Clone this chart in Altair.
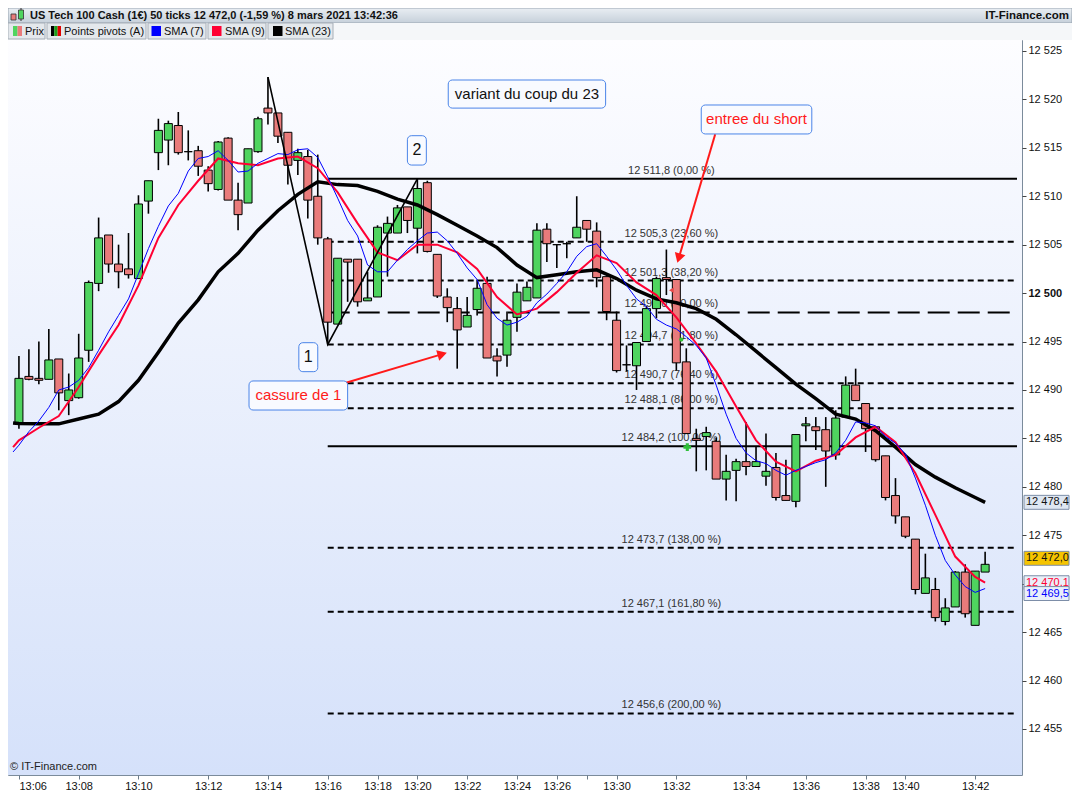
import altair as alt
import pandas as pd

# ---------------- data ----------------
opens = [12486.6, 12491.4, 12491.2, 12491.1, 12493.2, 12488.9, 12489.2, 12494.1, 12501.0, 12506.0,
         12503.0, 12502.5, 12501.5, 12509.5, 12514.5, 12515.8, 12517.3, 12514.6, 12514.7, 12512.7,
         12510.7, 12516.0, 12509.6, 12509.3, 12514.6, 12519.1, 12518.6, 12516.6, 12513.7, 12514.1,
         12510.0, 12505.6, 12496.8, 12503.5, 12503.5, 12499.2, 12499.6, 12506.2, 12506.2, 12508.9,
         12506.7, 12511.4, 12504.0, 12499.6, 12498.4, 12496.5, 12498.3, 12501.0, 12493.5, 12493.6,
         12497.5, 12499.2, 12499.5, 12506.6, 12505.0, 12505.1, 12505.7, 12507.5, 12506.4, 12501.7,
         12497.2, 12492.6, 12492.5, 12495.0, 12498.4, 12501.6, 12501.4, 12492.9, 12485.0, 12485.2,
         12484.7, 12480.8, 12481.7, 12482.6, 12482.1, 12481.1, 12482.0, 12479.1, 12478.5, 12486.3,
         12486.2, 12485.9, 12483.3, 12487.2, 12490.5, 12488.6, 12486.2, 12483.2, 12479.1, 12476.9,
         12474.6, 12469.0, 12469.4, 12466.1, 12467.6, 12471.2, 12465.7, 12471.2]
highs = [12493.5, 12494.2, 12495.0, 12496.3, 12493.2, 12491.7, 12495.8, 12501.3, 12507.8, 12506.0,
         12505.0, 12506.2, 12510.1, 12511.6, 12518.0, 12517.8, 12518.7, 12516.8, 12515.2, 12513.1,
         12515.7, 12516.1, 12511.4, 12514.9, 12518.2, 12522.3, 12518.6, 12516.6, 12514.9, 12514.8,
         12514.3, 12505.8, 12503.6, 12503.5, 12503.5, 12502.2, 12507.0, 12507.9, 12509.1, 12508.9,
         12511.8, 12511.6, 12504.0, 12500.5, 12499.6, 12499.6, 12501.4, 12501.7, 12494.3, 12498.1,
         12501.0, 12501.2, 12507.2, 12507.2, 12505.0, 12505.3, 12510.0, 12507.5, 12507.3, 12501.7,
         12498.1, 12494.6, 12494.9, 12498.7, 12501.7, 12504.5, 12501.4, 12494.3, 12486.0, 12486.2,
         12485.1, 12483.3, 12482.9, 12486.7, 12484.1, 12485.5, 12483.5, 12482.8, 12485.4, 12487.2,
         12487.2, 12487.2, 12487.9, 12491.4, 12492.2, 12488.6, 12486.2, 12483.2, 12480.9, 12476.9,
         12474.6, 12473.1, 12470.6, 12468.5, 12471.3, 12472.0, 12471.3, 12473.3]
lows = [12486.0, 12491.0, 12490.6, 12491.1, 12487.9, 12487.4, 12489.1, 12492.9, 12500.2, 12502.1,
        12500.5, 12501.5, 12501.5, 12508.2, 12512.7, 12513.2, 12514.3, 12513.7, 12512.1, 12510.5,
        12510.6, 12509.6, 12506.5, 12509.3, 12514.5, 12517.4, 12515.5, 12511.2, 12512.2, 12507.7,
        12505.0, 12494.7, 12496.8, 12499.1, 12498.6, 12499.2, 12499.6, 12501.7, 12506.2, 12506.2,
        12504.1, 12504.2, 12499.5, 12497.0, 12492.2, 12496.5, 12497.7, 12493.3, 12491.4, 12492.4,
        12496.0, 12499.2, 12499.5, 12503.2, 12502.6, 12503.6, 12505.7, 12505.3, 12500.6, 12497.2,
        12491.8, 12491.9, 12490.0, 12495.0, 12497.4, 12499.8, 12492.0, 12485.5, 12481.6, 12481.7,
        12480.8, 12478.6, 12478.5, 12481.2, 12482.1, 12480.1, 12478.6, 12478.6, 12477.9, 12484.7,
        12483.8, 12480.0, 12482.8, 12487.2, 12488.9, 12483.6, 12482.6, 12478.6, 12476.2, 12474.7,
        12468.9, 12469.0, 12466.1, 12465.7, 12467.6, 12466.5, 12465.7, 12471.2]
closes = [12491.2, 12491.1, 12491.0, 12493.1, 12489.7, 12490.0, 12493.3, 12501.1, 12505.7, 12503.0,
          12502.2, 12501.9, 12509.2, 12511.6, 12516.8, 12517.5, 12514.5, 12514.6, 12513.1, 12511.3,
          12515.6, 12509.6, 12508.1, 12514.9, 12518.0, 12518.6, 12516.2, 12513.2, 12514.5, 12509.6,
          12505.7, 12497.0, 12503.6, 12503.2, 12499.1, 12499.5, 12506.8, 12507.2, 12508.8, 12507.5,
          12510.8, 12504.3, 12499.7, 12498.5, 12496.2, 12497.7, 12500.5, 12493.3, 12493.0, 12497.2,
          12500.1, 12500.6, 12506.5, 12505.1, 12505.0, 12505.1, 12506.8, 12506.6, 12501.6, 12498.1,
          12492.0, 12492.6, 12494.9, 12498.4, 12501.5, 12501.4, 12492.8, 12485.5, 12484.8, 12485.6,
          12480.8, 12481.6, 12482.6, 12482.1, 12482.6, 12481.6, 12478.9, 12478.6, 12485.4, 12486.5,
          12485.8, 12483.7, 12487.1, 12490.5, 12488.9, 12486.0, 12482.8, 12478.9, 12477.0, 12474.9,
          12469.4, 12470.6, 12466.5, 12467.5, 12471.2, 12466.9, 12471.3, 12472.0]

sma7_idx = [-0.59] + list(range(98))
sma7_val = [12483.6, 12484.3, 12485.7, 12486.8, 12488.2, 12490.0, 12490.3, 12491.0, 12492.3, 12494.1,
            12496.0, 12497.7, 12499.4, 12502.0, 12504.6, 12506.9, 12509.0, 12510.3, 12512.6, 12513.9,
            12514.1, 12514.7, 12513.7, 12512.5, 12512.6, 12513.4, 12513.9, 12514.4, 12514.3, 12514.8,
            12514.9, 12514.0, 12512.0, 12509.8, 12507.5, 12505.9, 12502.9, 12502.2, 12502.2, 12503.4,
            12504.5, 12505.4, 12506.2, 12506.3, 12505.4, 12504.1, 12502.6, 12501.4, 12498.8, 12497.4,
            12496.7, 12497.0, 12497.6, 12499.0, 12499.9, 12501.0, 12502.2, 12503.8, 12504.8, 12505.1,
            12503.8, 12502.4, 12500.8, 12499.4, 12498.6, 12497.3, 12496.7, 12496.3, 12495.5, 12494.6,
            12493.3, 12490.5, 12487.5, 12485.0, 12483.5, 12482.7, 12482.4, 12481.7, 12481.2, 12481.7,
            12482.1, 12482.5, 12482.8, 12483.5, 12484.8, 12486.7, 12486.6, 12486.3, 12485.2, 12484.5,
            12483.4, 12480.9, 12478.1, 12475.0, 12472.4, 12470.9, 12469.7, 12469.1, 12469.5]

sma_even_idx = [-0.59] + list(range(0, 97, 2)) + [97]
sma9_val = [12484.1, 12484.8, 12486.1, 12487.3, 12490.3, 12493.6, 12496.7, 12500.8, 12505.7, 12509.1,
            12511.6, 12513.9, 12513.4, 12513.2, 12513.9, 12514.1, 12512.9, 12510.4, 12507.2, 12504.2,
            12503.4, 12505.0, 12505.0, 12504.2, 12502.5, 12499.6, 12497.8, 12498.4, 12500.1, 12502.1,
            12503.9, 12503.1, 12501.1, 12499.8, 12497.5, 12494.8, 12491.9, 12488.3, 12484.8, 12482.6,
            12481.6, 12482.7, 12483.3, 12485.1, 12486.2, 12484.6, 12481.4, 12477.1, 12472.8, 12470.7,
            12470.1]
sma23_val = [12486.6, 12486.55, 12486.5, 12486.5, 12487.0, 12487.5, 12488.8, 12491.0, 12493.9, 12496.9,
             12499.3, 12502.2, 12504.1, 12506.5, 12508.5, 12510.2, 12511.5, 12511.2, 12511.1, 12510.5,
             12509.7, 12509.1, 12508.1, 12507.0, 12505.9, 12504.7, 12502.9, 12501.6, 12501.9, 12502.2,
             12502.4, 12501.5, 12500.3, 12499.4, 12499.0, 12498.4, 12497.3, 12495.7, 12494.0, 12492.3,
             12490.6, 12489.1, 12487.5, 12487.0, 12485.8, 12484.1, 12482.3, 12481.0, 12479.9, 12478.9,
             12478.4]

fib_prices = [12511.8, 12505.3, 12501.3, 12498.0, 12494.7, 12490.7, 12488.1, 12484.2, 12473.7, 12467.1, 12456.6]
fib_pcts = ["0,00", "23,60", "38,20", "50,00", "61,80", "76,40", "86,00", "100,00", "138,00", "161,80", "200,00"]
fib_styles = ["solid", "dash", "dash", "long", "dash", "dash", "dash", "solid", "dash", "dash", "dash"]
fib_start = 31

zig_idx = [25, 31, 40]
zig_price = [12522.3, 12494.7, 12511.8]

tick_idx = [0, 6, 12, 19, 25, 31, 36, 40, 45, 50, 54, 57, 60, 66, 73, 79, 85, 89, 96]
tick_lbl = ["13:06", "13:08", "13:10", "13:12", "13:14", "13:16", "13:18", "13:20", "13:22", "13:24",
            "13:26", "", "13:30", "13:32", "13:34", "13:36", "13:38", "13:40", "13:42"]
y_ticks = list(range(12455, 12530, 5))


def fr(v):
    return f"{v:,.1f}".replace(",", " ").replace(".", ",")


# ---------------- layout / style ----------------
W, H = 1014, 735
FONT = "Liberation Sans"
GREEN, RED = "#4fd45f", "#e97b7b"
XMIN, XMAX = -0.596, 100.2
xs = alt.Scale(domain=[XMIN, XMAX], nice=False, zero=False)
ys = alt.Scale(domain=[12450.25, 12526.13], nice=False, zero=False)
one = alt.Data(values=[{"k": 0}])

label_expr = "".join(f"datum.value == {i} ? '{l}' : " for i, l in zip(tick_idx, tick_lbl)) + "''"
x_axis = alt.Axis(values=tick_idx, labelExpr=label_expr, title=None, grid=False, domain=False,
                  tickSize=4, tickColor="#6a7a8a", labelFont=FONT, labelFontSize=11, labelColor="#111",
                  labelPadding=1, labelOverlap=False,
                  labelAlign={"condition": {"test": "datum.value == 0", "value": "left"}, "value": "center"})
y_axis = alt.Axis(orient="right", values=y_ticks, title=None, grid=False, domain=False,
                  labelExpr="replace(format(datum.value, ','), ',', ' ')",
                  labelFontWeight={"condition": {"test": "datum.value == 12500", "value": "bold"}, "value": "normal"},
                  tickSize=4, tickColor="#444", labelFont=FONT, labelFontSize=11, labelColor="#111",
                  labelPadding=2, labelOverlap=False)


def X(f):
    return alt.X(f"{f}:Q", scale=xs, axis=x_axis)


def Y(f):
    return alt.Y(f"{f}:Q", scale=ys, axis=y_axis)


candles = pd.DataFrame({"idx": list(range(len(opens))), "open": opens, "high": highs,
                        "low": lows, "close": closes})

layers = []

# background gradient
layers.append(alt.Chart(one).mark_rect(
    fill=alt.Gradient(gradient="linear", x1=0, x2=0, y1=0, y2=1,
                      stops=[alt.GradientStop(color="#fdfdff", offset=0),
                             alt.GradientStop(color="#d5e1fa", offset=1)])
).encode(x=alt.value(0), x2=alt.value(W), y=alt.value(0), y2=alt.value(H)))

# fibonacci levels
fib = pd.DataFrame({"price": fib_prices, "pct": fib_pcts, "style": fib_styles})
fib["start"] = fib_start
fib["end"] = XMAX
fib["label"] = [f"{fr(p)} ({q} %)" for p, q in zip(fib_prices, fib_pcts)]
for style, dash in [("solid", None), ("dash", [6, 4]), ("long", [22, 8])]:
    kw = dict(color="black", strokeWidth=2)
    if dash:
        kw["strokeDash"] = dash
    layers.append(alt.Chart(fib).transform_filter(f"datum.style == '{style}'").mark_rule(**kw).encode(
        x=X("start"), x2="end:Q", y=Y("price")))
layers.append(alt.Chart(fib).transform_calculate(lx="65.5").mark_text(
    font=FONT, fontSize=11, color="#333", dy=-8, align="center").encode(
    x=X("lx"), y=Y("price"), text="label:N"))

# candles
layers.append(alt.Chart(candles).mark_rule(color="black", strokeWidth=1.6).encode(
    x=X("idx"), y=Y("low"), y2="high:Q"))
layers.append(alt.Chart(candles).mark_bar(size=8, stroke="black", strokeWidth=1).encode(
    x=X("idx"), y=Y("open"), y2="close:Q",
    fill=alt.condition("datum.close >= datum.open", alt.value(GREEN), alt.value(RED))))

# moving averages
s23 = pd.DataFrame({"idx": sma_even_idx, "v": sma23_val})
s9 = pd.DataFrame({"idx": sma_even_idx, "v": sma9_val})
s7 = pd.DataFrame({"idx": sma7_idx, "v": sma7_val})
layers.append(alt.Chart(s23).mark_line(color="black", strokeWidth=3.5).encode(x=X("idx"), y=Y("v")))
layers.append(alt.Chart(s9).mark_line(color="#ff0033", strokeWidth=2).encode(x=X("idx"), y=Y("v")))
layers.append(alt.Chart(s7).mark_line(color="#0000ff", strokeWidth=1).encode(x=X("idx"), y=Y("v")))

# zigzag
zz = pd.DataFrame({"idx": zig_idx, "price": zig_price})
layers.append(alt.Chart(zz).mark_line(color="black", strokeWidth=1.6).encode(x=X("idx"), y=Y("price")))

# pivot markers
piv = pd.DataFrame({"idx": [65.5, 66.5, 67.1], "price": [12500.3, 12495.2, 12484.1],
                    "shape": ["triangle-left", "circle", "cross"],
                    "col": ["#e84a4a", "#35c235", "#2fbf3a"], "sz": [30, 18, 60]})
layers.append(alt.Chart(piv).mark_point(filled=True, opacity=1).encode(
    x=X("idx"), y=Y("price"), shape=alt.Shape("shape:N", scale=None),
    color=alt.Color("col:N", scale=None), size=alt.Size("sz:Q", scale=None)))

# arrows
arr = pd.DataFrame({"id": [1, 1, 2, 2], "idx": [30.98, 42.5, 69.9, 66.24],
                    "price": [12490.17, 12493.7, 12516.4, 12503.6]})
layers.append(alt.Chart(arr).mark_line(color="#ff1a1a", strokeWidth=2).encode(
    x=X("idx"), y=Y("price"), detail="id:N"))
heads = pd.DataFrame({"idx": [42.5, 66.24], "price": [12493.7, 12503.6], "ang": [74, 197]})
layers.append(alt.Chart(heads).mark_point(shape="triangle-up", filled=True, color="#ff1a1a",
                                          size=120, opacity=1).encode(
    x=X("idx"), y=Y("price"), angle=alt.Angle("ang:Q", scale=None)))

# annotation boxes
ann = pd.DataFrame([
    {"text": "1", "x0": 28.1, "x1": 30.0, "y0": 12494.88, "y1": 12491.89, "col": "#111111", "fs": 16},
    {"text": "2", "x0": 39.0, "x1": 40.9, "y0": 12516.25, "y1": 12513.22, "col": "#111111", "fs": 16},
    {"text": "variant du coup du 23", "x0": 43.1, "x1": 58.9, "y0": 12522.0, "y1": 12519.1, "col": "#111111", "fs": 15},
    {"text": "entree du short", "x0": 68.5, "x1": 79.6, "y0": 12519.42, "y1": 12516.43, "col": "#ff1a1a", "fs": 15},
    {"text": "cassure de 1", "x0": 23.1, "x1": 33.0, "y0": 12490.93, "y1": 12487.93, "col": "#ff1a1a", "fs": 15},
])
layers.append(alt.Chart(ann).mark_rect(cornerRadius=4, stroke="#4a84e8", strokeWidth=1, fill="#f8faff").encode(
    x=X("x0"), x2="x1:Q", y=Y("y0"), y2="y1:Q"))
layers.append(alt.Chart(ann).transform_calculate(cx="(datum.x0 + datum.x1) / 2", cy="(datum.y0 + datum.y1) / 2").mark_text(
    font=FONT).encode(x=X("cx"), y=Y("cy"), text="text:N", color=alt.Color("col:N", scale=None),
                      size=alt.Size("fs:Q", scale=None)))

# price boxes on the right axis
boxes = [(12470.1, "#ff0033", "#e9eff9", 0), (12469.5, "#0000ff", "#e9eff9", 5),
         (12478.4, "#111111", "#dfe7f2", 0), (12472.0, "#111111", "#f5c400", -6)]
for p, tc, bgc, off in boxes:
    d = pd.DataFrame({"price": [p], "label": [fr(p)]})
    layers.append(alt.Chart(d).transform_calculate(top="datum.price + 0.72", bot="datum.price - 0.72").mark_rect(
        fill=bgc, stroke="#7d8ea8", strokeWidth=1, yOffset=off, y2Offset=off).encode(
        x=alt.value(W + 2), x2=alt.value(W + 47), y=Y("top"), y2="bot:Q"))
    layers.append(alt.Chart(d).mark_text(align="left", font=FONT, fontSize=11, color=tc, dy=off).encode(
        x=alt.value(W + 4), y=Y("price"), text="label:N"))

# watermark
layers.append(alt.Chart(one).mark_text(align="left", font=FONT, fontSize=11, color="#222").encode(
    x=alt.value(2), y=alt.value(H - 8), text=alt.value("© IT-Finance.com")))

# header bar
layers.append(alt.Chart(one).mark_rect(
    fill=alt.Gradient(gradient="linear", x1=0, x2=0, y1=0, y2=1,
                      stops=[alt.GradientStop(color="#e9eef3", offset=0),
                             alt.GradientStop(color="#c6d0da", offset=1)]),
    stroke="#9aa6b2", strokeWidth=1).encode(
    x=alt.value(0), x2=alt.value(1064), y=alt.value(-32), y2=alt.value(-17)))
layers.append(alt.Chart(one).mark_rect(fill="#f5f7f9").encode(
    x=alt.value(0), x2=alt.value(1064), y=alt.value(-17), y2=alt.value(0)))
# small candle icon
layers.append(alt.Chart(one).mark_rule(color="#333", strokeWidth=1).encode(
    x=alt.value(13), y=alt.value(-32), y2=alt.value(-19)))
layers.append(alt.Chart(one).mark_rect(fill=RED, stroke="#333", strokeWidth=0.8).encode(
    x=alt.value(3), x2=alt.value(8), y=alt.value(-26), y2=alt.value(-20)))
layers.append(alt.Chart(one).mark_rect(fill=GREEN, stroke="#333", strokeWidth=0.8).encode(
    x=alt.value(10.5), x2=alt.value(15.5), y=alt.value(-30), y2=alt.value(-21)))
layers.append(alt.Chart(one).mark_text(align="left", font=FONT, fontSize=11, fontWeight="bold", color="#111").encode(
    x=alt.value(22), y=alt.value(-24.5),
    text=alt.value("US Tech 100 Cash (1€) 50 ticks 12 472,0 (-1,59 %) 8 mars 2021 13:42:36")))
layers.append(alt.Chart(one).mark_text(align="right", font=FONT, fontSize=11.5, fontWeight="bold", color="#111").encode(
    x=alt.value(1061), y=alt.value(-24.5), text=alt.value("IT-Finance.com")))

# legend row
legend = [
    ("Prix", 0, 37, [(GREEN, 5, 9.5), (RED, 9.5, 14)], 17),
    ("Points pivots (A)", 39, 138, [("#000000", 43, 46.3), ("#1aa01a", 46.3, 49.6), ("#e00000", 49.6, 53)], 56),
    ("SMA (7)", 140, 198, [("#0000ff", 143.5, 153)], 156),
    ("SMA (9)", 200, 258, [("#ff0033", 204, 213.5)], 217),
    ("SMA (23)", 260, 325, [("#000000", 265, 274.5)], 277),
]
for name, b0, b1, sw, tx in legend:
    layers.append(alt.Chart(one).mark_rect(fill="#e4e8ec", stroke="#a7afb8", strokeWidth=1).encode(
        x=alt.value(b0), x2=alt.value(b1), y=alt.value(-17), y2=alt.value(-1)))
    for c, s0, s1 in sw:
        layers.append(alt.Chart(one).mark_rect(fill=c).encode(
            x=alt.value(s0), x2=alt.value(s1), y=alt.value(-14), y2=alt.value(-4)))
    layers.append(alt.Chart(one).mark_text(align="left", font=FONT, fontSize=11, color="#111").encode(
        x=alt.value(tx), y=alt.value(-8.5), text=alt.value(name)))

chart = alt.layer(*layers).properties(
    width=W, height=H,
    padding={"left": 0, "top": 32, "right": 50, "bottom": 17},
    autosize=alt.AutoSizeParams(type="none"),
    background="white",
).configure_view(stroke="#7b8b9b", strokeWidth=1)

chart.save("out.html", embed_options={"renderer": "svg", "actions": False})
